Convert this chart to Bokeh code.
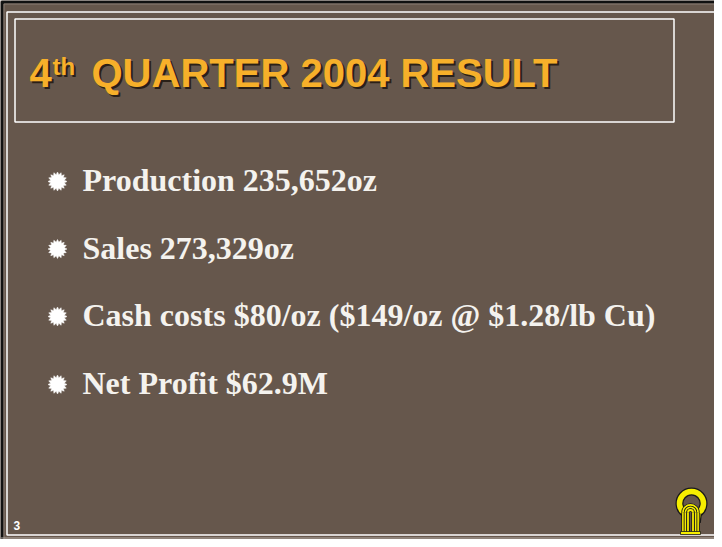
import numpy as np
from bokeh.plotting import figure
from bokeh.models import Range1d
from bokeh.embed import file_html
from bokeh.resources import INLINE
from bokeh.core.properties import value

# ---- content ----
title_num = "4"
title_sup = "th"
title_main = "QUARTER 2004 RESULT"
bullets = [
    "Production 235,652oz",
    "Sales 273,329oz",
    "Cash costs $80/oz ($149/oz @ $1.28/lb Cu)",
    "Net Profit $62.9M",
]
bullet_baselines = [192, 259.5, 327, 395]
page_number = "3"

# ---- style ----
W, H = 714, 539
BG = "#66574C"
ORANGE = "#F7B02A"
SHADOW = "#2A2018"
TEXT = "#F4F2EE"
YELLOW = "#F6EE00"
SHIFT = 0.39  # renderer places text lower than the alphabetic baseline

p = figure(width=W, height=H, x_range=Range1d(0, W), y_range=Range1d(H, 0),
           output_backend="svg", toolbar_location=None, min_border=0,
           x_axis_location=None, y_axis_location=None)
p.grid.visible = False
p.outline_line_color = None
p.background_fill_color = BG
p.border_fill_color = "white"

# outer frame
p.line([1.5, 1.5, W], [H, 1.5, 1.5], line_color="#111111", line_width=3)
p.line([3.5, 3.5, W], [H, 3.5, 3.5], line_color="#8a7e74", line_width=1)
p.quad(left=[6.5], right=[W + 10], top=[11.5], bottom=[534.5],
       fill_color=None, line_color="white", line_width=1.5)
p.line([0, W], [537.5, 537.5], line_color="#b8b0a8", line_width=1)

# title box
p.quad(left=[14.5], right=[673.5], top=[18.5], bottom=[121.5],
       fill_color=None, line_color="white", line_width=1.5)

# title text with shadow
tfont = value("Liberation Sans")
for dx, col in [(2, SHADOW), (0, ORANGE)]:
    p.text(x=[29 + dx], y=[88 - 40 * SHIFT + dx], text=[title_num], text_font=tfont,
           text_font_style="bold", text_font_size="40px", text_color=col,
           text_baseline="alphabetic")
    p.text(x=[52 + dx], y=[75 - 24 * SHIFT + dx], text=[title_sup], text_font=tfont,
           text_font_style="bold", text_font_size="24px", text_color=col,
           text_baseline="alphabetic")
    p.text(x=[91 + dx], y=[88 - 40 * SHIFT + dx], text=[title_main], text_font=tfont,
           text_font_style="bold", text_font_size="40px", text_color=col,
           text_baseline="alphabetic")

# bullets: starburst markers
xs, ys = [], []
npts = 16
ang = np.arange(2 * npts) * np.pi / npts
rad = np.where(np.arange(2 * npts) % 2 == 0, 9.5, 7.0)
for b in bullet_baselines:
    cx, cy = 57, b - 11
    xs.append(list(cx + rad * np.cos(ang)))
    ys.append(list(cy + rad * np.sin(ang)))
p.patches(xs, ys, fill_color="white", line_color="white", line_width=0.5)

p.text(x=[82] * len(bullets), y=[b - 32 * SHIFT for b in bullet_baselines], text=bullets,
       text_font=value("Liberation Serif"), text_font_style="bold",
       text_font_size="32px", text_color=TEXT, text_baseline="alphabetic")

# page number
p.text(x=[13], y=[530 - 12 * SHIFT], text=[page_number], text_font=tfont,
       text_font_style="bold", text_font_size="12px", text_color="white",
       text_baseline="alphabetic")

# logo (stylised arches)
rcx, rcy, rr = 691, 503, 12
sa, ea = np.deg2rad(-55), np.deg2rad(235)
for lw, col in [(8, "#1a1a1a"), (5.5, YELLOW)]:
    p.arc(x=[rcx], y=[rcy], radius=rr, start_angle=sa, end_angle=ea,
          direction="anticlock", line_width=lw, line_color=col)
# legs of outer ring
lx = rcx + rr * np.cos(ea)
ly = rcy - rr * np.sin(ea)
rx = rcx + rr * np.cos(sa)
ry = rcy - rr * np.sin(sa)
for lw, col in [(7, "#1a1a1a"), (4.5, YELLOW)]:
    p.segment(x0=[lx, rx], y0=[ly, ry], x1=[lx + 2, rx - 1], y1=[532, 522],
              line_width=lw, line_color=col)
# inner arches
acx, acy = 690, 512
for r in [7.5, 5, 2.5]:
    for lw, col in [(3.5, "#1a1a1a"), (1.8, YELLOW)]:
        p.arc(x=[acx], y=[acy], radius=r, start_angle=0, end_angle=np.pi,
              direction="anticlock", line_width=lw, line_color=col)
        p.segment(x0=[acx - r, acx + r], y0=[acy, acy], x1=[acx - r, acx + r],
                  y1=[533, 533], line_width=lw, line_color=col)
p.quad(left=[acx - 10], right=[acx + 10], top=[531], bottom=[534],
       fill_color=YELLOW, line_color="#1a1a1a", line_width=0.8)

open("out.html", "w").write(file_html(p, INLINE))
